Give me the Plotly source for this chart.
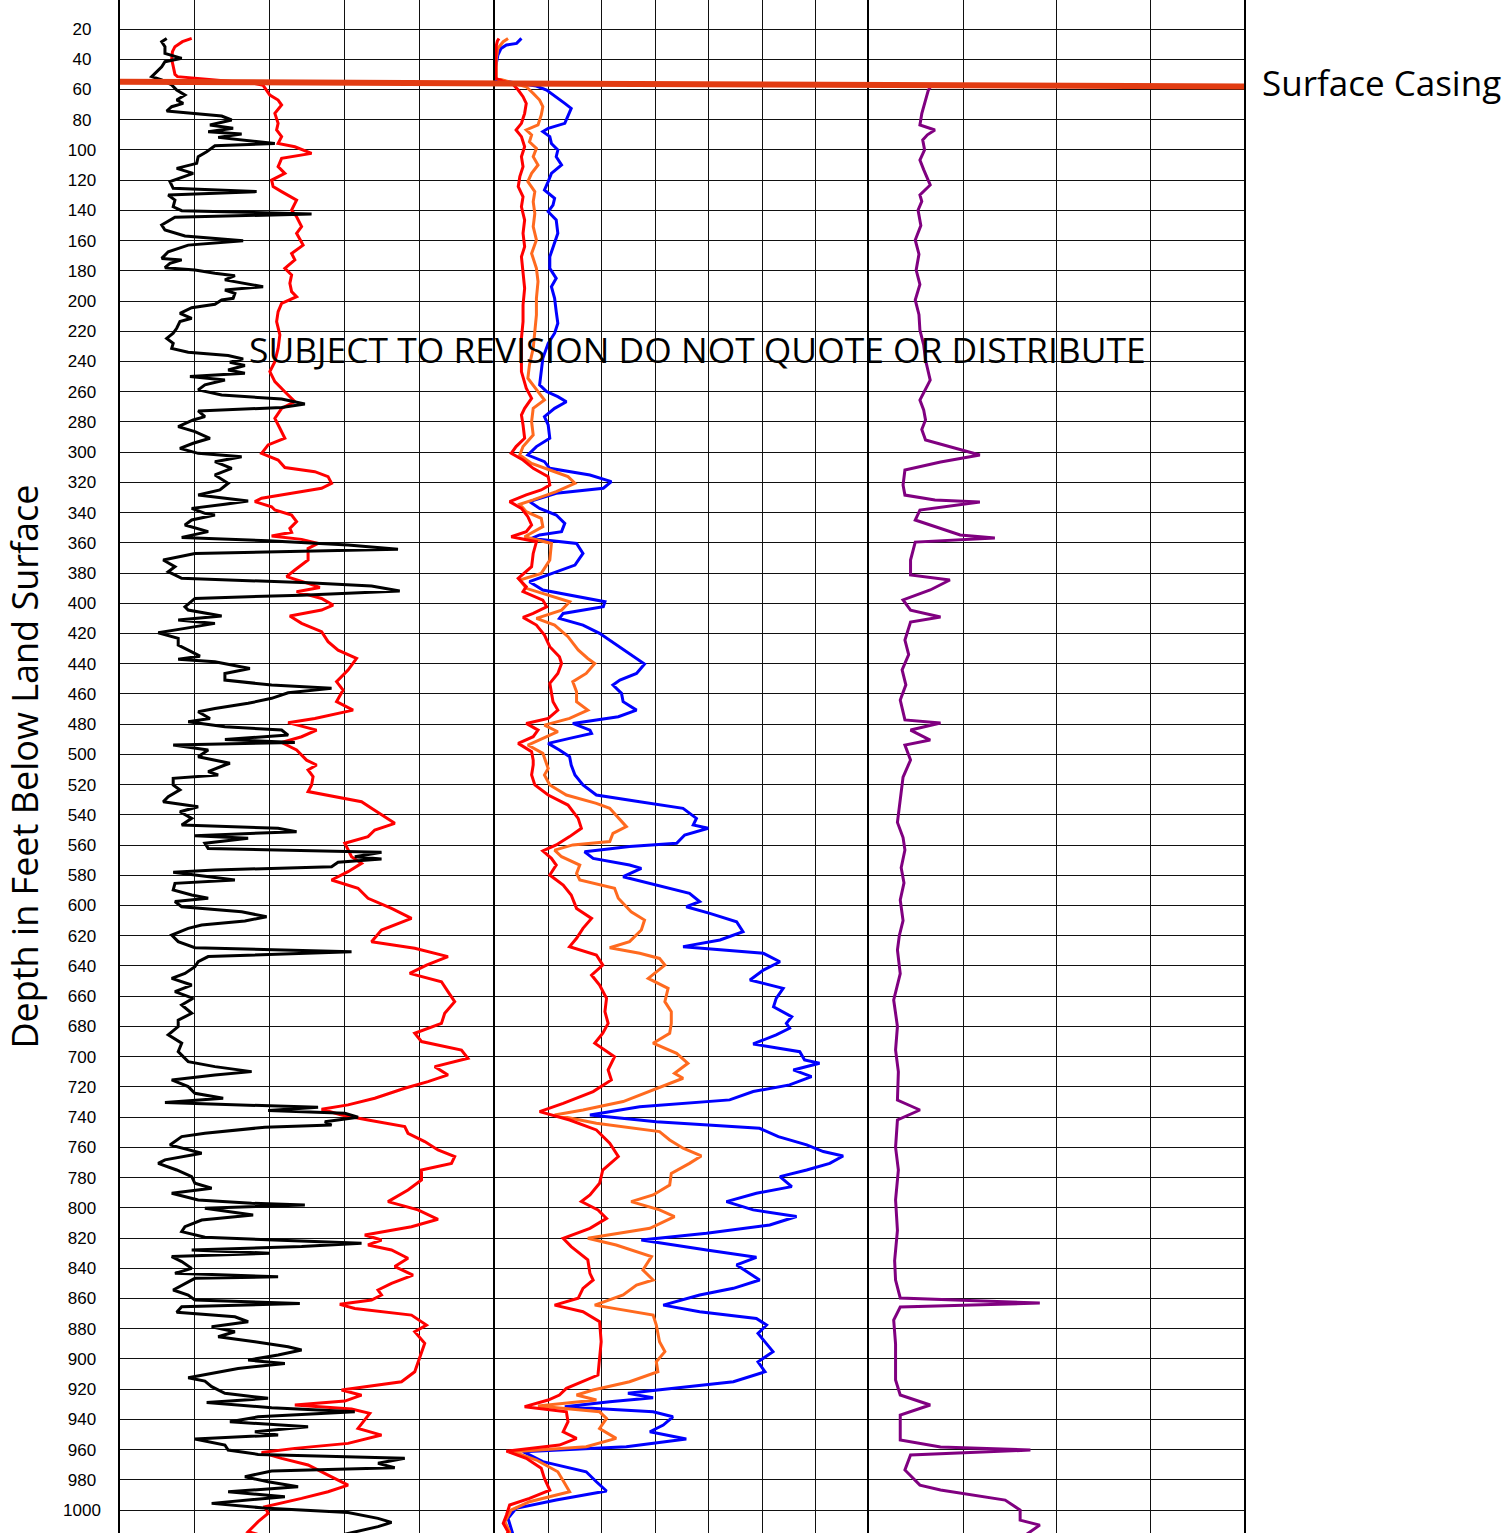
import plotly.graph_objects as go
from plotly.subplots import make_subplots

# ---------------- data (depth in ft, values in track units) ----------------
gr_depth = [26.2, 28.4, 31.7, 36.1, 39.4, 41.6, 45.0, 48.2, 51.5, 53.7, 57.0, 60.4, 63.7, 67.0, 69.2, 71.4, 74.3, 77.6, 80.2, 83.5,
            85.7, 88.0, 89.5, 91.7, 95.7, 97.2, 101.2, 104.5, 108.9, 112.2, 115.5, 121.0, 125.4, 127.6, 129.9, 133.2, 137.6, 140.2, 142.4, 144.6,
            149.7, 153.0, 157.0, 160.1, 163.0, 167.4, 171.8, 172.8, 175.0, 177.9, 179.4, 181.6, 183.2, 186.0, 190.5, 192.7, 194.9, 198.2, 199.3, 202.1,
            204.4, 208.1, 211.4, 213.6, 218.0, 221.3, 224.7, 228.0, 231.3, 233.9, 236.1, 238.3, 240.5, 242.7, 245.6, 247.8, 250.0, 252.2, 255.5, 258.8,
            262.2, 264.8, 268.1, 270.5, 272.7, 276.5, 278.7, 283.1, 286.4, 290.8, 294.1, 297.5, 300.8, 303.0, 306.3, 310.7, 315.1, 320.6, 325.0, 328.3,
            332.3, 334.5, 337.2, 340.5, 341.6, 344.9, 348.2, 352.6, 356.4, 358.6, 361.5, 364.3, 367.0, 371.4, 375.8, 379.1, 383.5, 386.4, 388.6, 391.9,
            394.6, 396.8, 402.3, 404.5, 408.4, 411.1, 413.3, 416.6, 419.5, 423.2, 427.6, 432.1, 435.0, 437.1, 438.7, 443.1, 446.4, 450.8, 454.1, 456.3,
            459.2, 462.9, 466.2, 469.6, 471.8, 476.2, 478.4, 481.7, 483.9, 487.2, 490.1, 492.1, 493.8, 497.1, 501.5, 505.9, 507.0, 511.4, 513.6, 515.8,
            520.2, 523.5, 528.0, 531.3, 534.6, 537.9, 542.3, 546.7, 548.9, 551.1, 553.8, 555.5, 558.8, 562.2, 564.8, 567.7, 569.2, 571.4, 574.3, 576.5,
            578.0, 583.1, 585.3, 589.7, 593.0, 595.2, 597.4, 600.8, 604.1, 607.4, 610.2, 612.9, 615.1, 619.5, 623.9, 627.9, 630.5, 633.8, 637.2, 640.5,
            644.9, 648.2, 652.6, 657.0, 661.4, 665.8, 671.3, 675.8, 680.1, 685.6, 691.1, 696.7, 703.3, 706.6, 709.9, 712.1, 715.4, 719.8, 724.2, 727.5,
            730.4, 733.5, 735.7, 737.5, 740.1, 743.0, 745.2, 746.7, 750.7, 752.9, 758.4, 763.9, 768.3, 770.6, 775.0, 779.4, 783.8, 787.1, 790.4, 794.8,
            797.0, 798.1, 800.3, 804.8, 808.1, 812.5, 815.8, 819.5, 821.3, 823.5, 825.7, 827.9, 830.1, 832.3, 835.6, 840.1, 843.4, 845.6, 846.7, 851.1,
            854.4, 857.7, 861.0, 863.3, 865.5, 869.2, 872.1, 875.4, 878.7, 882.0, 885.3, 888.6, 892.0, 894.1, 897.4, 900.8, 903.0, 906.3, 909.6, 912.5,
            914.7, 918.4, 922.8, 926.1, 928.8, 932.3, 935.0, 938.3, 941.6, 944.9, 948.2, 950.4, 953.0, 957.0, 960.3, 963.2, 965.8, 969.1, 972.0, 974.2,
            978.0, 981.3, 984.6, 987.9, 991.2, 995.6, 998.9, 1001.6, 1005.5, 1008.2, 1011.0, 1014.4, 1016.0]
gr_value = [18.7, 16.7, 18.0, 18.0, 24.7, 18.0, 16.7, 14.7, 12.7, 16.7, 20.7, 22.7, 26.0, 22.7, 25.3, 20.7, 18.7, 40.7, 44.7, 36.0,
            45.3, 35.3, 48.7, 39.3, 62.0, 38.0, 34.7, 31.3, 30.7, 22.7, 29.3, 20.0, 21.3, 54.7, 19.3, 22.0, 21.3, 24.7, 76.7, 22.0,
            16.7, 18.0, 26.0, 49.3, 27.3, 19.3, 16.7, 24.7, 20.0, 18.0, 30.0, 38.0, 46.0, 42.0, 57.3, 42.0, 46.0, 45.3, 40.7, 38.0,
            28.7, 24.0, 28.7, 24.0, 22.7, 21.3, 18.7, 21.3, 20.7, 27.3, 43.3, 49.3, 44.0, 50.0, 43.3, 50.0, 28.0, 42.0, 34.0, 31.3,
            40.7, 64.7, 74.0, 64.7, 31.3, 34.0, 29.3, 23.3, 30.0, 36.0, 29.3, 24.0, 31.3, 48.7, 38.0, 44.7, 38.0, 43.3, 40.0, 31.3,
            51.3, 42.0, 28.7, 34.0, 38.0, 28.7, 26.0, 35.3, 24.7, 59.3, 91.3, 111.3, 30.0, 17.3, 22.0, 19.3, 24.7, 75.3, 100.7, 112.0,
            72.7, 30.0, 26.0, 27.3, 40.7, 23.3, 38.0, 26.0, 15.3, 23.3, 23.3, 28.7, 32.0, 23.3, 38.0, 52.0, 42.0, 42.0, 60.7, 84.7,
            67.3, 60.7, 51.3, 38.0, 31.3, 36.0, 27.3, 42.0, 64.7, 67.3, 42.0, 70.0, 21.3, 35.3, 31.3, 44.0, 42.0, 35.3, 39.3, 21.3,
            21.3, 24.0, 19.3, 17.3, 31.3, 24.0, 28.7, 24.7, 63.3, 70.7, 30.0, 51.3, 34.0, 35.3, 104.7, 94.0, 104.7, 87.3, 84.7, 38.0,
            21.3, 46.0, 22.0, 21.3, 28.7, 35.3, 22.0, 24.7, 48.7, 58.7, 50.0, 32.7, 27.3, 20.7, 23.3, 30.0, 92.7, 35.3, 31.3, 30.0,
            26.0, 20.7, 28.7, 22.0, 29.3, 24.7, 28.7, 23.3, 23.3, 19.3, 24.7, 23.3, 27.3, 38.0, 52.7, 38.0, 20.7, 27.3, 30.0, 41.3,
            18.0, 79.3, 59.3, 90.0, 95.3, 82.0, 84.7, 58.0, 34.0, 24.7, 20.0, 32.7, 18.0, 15.3, 22.7, 28.7, 30.0, 36.7, 20.7, 31.3,
            52.7, 74.0, 34.0, 53.3, 32.7, 26.0, 24.7, 34.0, 64.7, 96.7, 72.7, 28.7, 60.0, 20.7, 24.7, 28.7, 22.0, 63.3, 30.0, 24.7,
            21.3, 27.3, 30.0, 72.0, 24.7, 22.7, 46.0, 51.3, 36.7, 46.0, 39.3, 54.0, 67.3, 72.7, 63.3, 51.3, 66.0, 47.3, 36.7, 27.3,
            34.0, 36.7, 42.0, 59.3, 34.7, 60.7, 94.0, 55.3, 44.0, 75.3, 54.0, 63.3, 30.0, 42.0, 43.3, 55.3, 114.0, 103.3, 110.0, 60.7,
            50.0, 59.3, 71.3, 43.3, 66.0, 36.7, 59.3, 91.3, 103.3, 108.7, 103.3, 94.0, 90.0]

res1_depth = [26.2, 28.4, 31.7, 35.0, 40.0, 45.0, 50.0, 51.5, 52.8, 54.5, 56.0, 57.3, 63.7, 67.0, 70.3, 75.8, 82.4, 86.8, 91.2, 95.7,
              97.9, 102.3, 105.6, 111.1, 115.5, 120.0, 124.3, 127.6, 133.2, 139.8, 144.2, 150.8, 155.2, 163.0, 168.5, 172.8, 178.3, 182.7, 188.3, 193.8,
              197.1, 201.5, 207.0, 213.6, 222.4, 231.3, 240.1, 246.7, 253.3, 260.0, 266.6, 271.0, 277.6, 284.2, 290.8, 295.2, 300.8, 305.2, 310.2, 312.9,
              316.2, 320.6, 323.9, 327.2, 330.5, 332.7, 336.1, 338.3, 341.6, 346.0, 350.4, 353.0, 355.5, 357.7, 360.4, 363.7, 371.4, 378.0, 382.4, 386.8,
              389.5, 392.3, 396.8, 401.2, 404.5, 408.4, 413.3, 418.8, 425.4, 431.0, 436.5, 444.2, 451.9, 457.4, 465.1, 470.7, 476.2, 479.0, 483.9, 488.3,
              492.1, 497.1, 503.8, 507.0, 510.3, 514.7, 520.2, 524.6, 528.0, 531.3, 535.7, 541.2, 545.6, 550.0, 554.4, 558.8, 563.3, 567.7, 572.1, 577.6,
              583.1, 588.6, 595.2, 601.9, 608.5, 616.2, 623.9, 628.3, 633.8, 639.4, 644.9, 650.4, 657.0, 663.6, 671.3, 678.0, 684.5, 690.0, 695.6, 701.1,
              706.6, 712.1, 716.5, 720.9, 727.5, 731.9, 734.8, 738.6, 741.9, 746.3, 750.7, 756.2, 761.7, 766.1, 770.6, 775.0, 781.6, 788.2, 795.9, 801.4,
              807.6, 812.5, 818.0, 821.3, 824.6, 827.9, 833.4, 838.9, 844.5, 850.0, 854.4, 857.7, 861.0, 863.9, 866.6, 871.0, 877.6, 882.0, 889.7, 899.7,
              908.5, 915.1, 920.6, 924.0, 927.9, 930.5, 933.2, 936.0, 940.5, 946.0, 950.4, 955.9, 959.2, 961.9, 965.8, 970.2, 976.9, 983.5, 987.9, 992.3,
              997.8, 1002.2, 1007.7, 1014.4, 1016.0]
res1_value = [28.7, 25.0, 22.0, 21.0, 20.7, 21.3, 22.0, 23.0, 32.0, 45.0, 54.0, 57.3, 60.0, 63.3, 64.7, 62.0, 63.3, 62.7, 64.7, 63.3,
              70.0, 76.7, 64.7, 63.3, 66.0, 60.7, 61.3, 64.7, 70.7, 68.7, 70.7, 72.7, 70.7, 73.3, 68.7, 70.0, 66.0, 68.7, 68.0, 68.7,
              70.7, 64.7, 63.3, 62.7, 64.0, 63.3, 62.0, 60.0, 62.0, 66.0, 70.0, 64.7, 62.0, 64.0, 66.0, 59.3, 56.7, 63.3, 66.0, 78.0,
              83.3, 84.7, 80.7, 68.7, 56.7, 54.0, 60.7, 62.0, 68.7, 70.7, 68.0, 68.7, 60.7, 72.7, 79.3, 75.3, 75.3, 70.0, 66.7, 75.3,
              80.0, 70.7, 80.7, 85.3, 80.7, 68.0, 72.7, 80.7, 83.3, 87.3, 94.7, 91.3, 86.7, 89.3, 86.7, 93.3, 78.0, 67.3, 78.7, 72.7,
              64.7, 70.7, 74.7, 78.7, 75.3, 77.3, 76.7, 75.3, 86.0, 96.7, 100.7, 106.0, 110.0, 102.0, 99.3, 90.0, 91.3, 92.7, 96.7, 91.3,
              84.7, 95.3, 99.3, 108.7, 116.7, 104.7, 100.7, 118.0, 131.3, 122.7, 116.0, 128.7, 131.3, 134.0, 130.0, 128.7, 118.0, 120.7, 136.7, 139.3,
              126.0, 131.3, 123.3, 114.0, 102.0, 91.3, 80.7, 88.7, 99.3, 114.0, 115.3, 122.0, 127.3, 134.0, 132.7, 120.7, 120.7, 115.3, 107.3, 119.3,
              127.3, 116.7, 98.0, 104.7, 99.3, 108.7, 115.3, 110.0, 117.3, 108.7, 103.3, 104.7, 100.7, 88.0, 94.0, 116.7, 122.7, 118.0, 122.0, 120.0,
              118.0, 112.7, 88.7, 96.7, 90.0, 70.0, 92.7, 100.0, 98.0, 95.3, 104.7, 91.3, 70.0, 56.7, 64.7, 75.3, 83.3, 91.3, 83.3, 72.7,
              58.0, 59.3, 55.3, 51.3, 55.0]

sh_depth = [26.2, 28.0, 31.0, 40.0, 52.6, 54.5, 56.5, 60.4, 64.8, 69.2, 75.8, 82.4, 86.8, 91.2, 97.9, 104.5, 111.1, 117.7, 124.3, 131.0,
            137.6, 146.4, 155.2, 164.0, 170.7, 182.7, 191.6, 202.6, 213.6, 224.7, 235.7, 246.7, 257.7, 264.4, 271.0, 275.4, 282.0, 290.8, 296.3, 300.8,
            305.2, 310.7, 316.2, 321.7, 325.0, 328.3, 332.7, 337.2, 342.7, 348.2, 352.6, 356.0, 359.3, 367.0, 375.8, 383.5, 389.0, 392.3, 397.9, 402.3,
            406.7, 409.3, 414.4, 421.0, 428.7, 435.4, 439.8, 446.4, 453.0, 459.6, 465.1, 470.7, 476.2, 479.5, 483.9, 488.3, 492.7, 498.2, 503.8, 507.0,
            513.6, 520.2, 526.9, 533.5, 542.3, 548.9, 554.4, 559.9, 563.9, 568.8, 573.2, 579.8, 586.4, 593.0, 601.9, 608.5, 615.1, 621.7, 627.2, 632.7,
            639.4, 646.0, 652.6, 661.4, 670.2, 678.0, 684.5, 691.1, 700.0, 708.8, 715.4, 723.1, 730.9, 736.4, 741.9, 748.5, 757.3, 766.1, 775.0, 783.8,
            791.5, 795.9, 801.4, 807.0, 813.6, 820.2, 825.7, 834.5, 843.4, 847.8, 853.3, 859.9, 864.4, 868.8, 875.4, 888.6, 899.7, 910.7, 919.5, 923.9,
            927.2, 931.6, 935.0, 941.6, 948.2, 952.6, 957.0, 961.0, 965.8, 972.4, 979.1, 986.8, 992.3, 996.7, 1003.3, 1008.8, 1014.4, 1016.0]
sh_value = [0.8, 0.5, 0.3, 0.2, 0.2, 1.5, 3.4, 4.4, 5.3, 5.9, 5.6, 5.0, 4.0, 5.0, 5.6, 5.0, 5.3, 4.7, 4.4, 5.3,
            5.0, 5.6, 5.3, 5.6, 5.0, 5.3, 5.6, 5.3, 5.3, 5.0, 5.0, 5.0, 5.9, 6.9, 5.6, 5.0, 5.3, 5.6, 4.0, 3.1,
            5.3, 7.2, 10.0, 10.3, 8.7, 5.9, 2.8, 5.0, 6.2, 6.9, 5.9, 3.1, 7.8, 7.2, 6.9, 4.4, 5.9, 5.3, 9.0, 9.7,
            7.2, 5.3, 7.8, 9.3, 10.3, 12.1, 12.5, 11.8, 10.3, 10.6, 10.9, 11.8, 10.0, 5.9, 8.1, 7.2, 4.4, 6.9, 7.2, 7.2,
            6.9, 7.5, 10.0, 13.7, 15.6, 16.2, 14.0, 11.5, 9.0, 10.6, 11.5, 10.3, 12.8, 14.3, 15.3, 18.1, 16.5, 15.3, 14.0, 19.0,
            20.2, 18.1, 19.6, 20.9, 20.6, 21.2, 20.2, 18.7, 22.4, 21.2, 21.8, 18.4, 12.8, 8.4, 14.0, 19.0, 21.5, 23.1, 20.2, 19.6,
            17.8, 16.2, 19.3, 20.9, 17.8, 12.8, 14.3, 17.4, 17.8, 18.4, 16.5, 15.6, 11.2, 16.5, 19.6, 19.9, 19.6, 19.3, 13.4, 12.1,
            10.0, 5.6, 13.4, 13.7, 12.8, 15.3, 12.1, 2.2, 5.9, 8.7, 9.3, 10.3, 6.5, 2.8, 2.2, 1.6, 2.5, 2.3]

md_depth = [26.2, 28.4, 32.7, 40.0, 52.6, 54.8, 58.2, 62.6, 67.0, 71.4, 76.9, 83.5, 86.8, 90.1, 94.6, 99.0, 104.5, 110.0, 115.5, 121.0,
            127.6, 134.3, 142.0, 150.8, 159.6, 168.5, 178.3, 187.1, 198.2, 209.2, 220.2, 231.3, 242.3, 251.1, 259.9, 265.5, 271.0, 279.8, 288.6, 296.3,
            301.9, 307.4, 311.8, 316.2, 320.6, 326.1, 331.6, 334.5, 339.4, 343.8, 349.3, 356.0, 360.4, 371.4, 380.2, 384.6, 390.1, 394.6, 399.0, 404.5,
            410.0, 414.4, 422.1, 430.9, 436.5, 439.8, 446.4, 451.9, 458.5, 465.1, 470.7, 476.2, 480.6, 485.0, 490.5, 493.8, 499.3, 505.9, 509.3, 513.6,
            520.2, 526.9, 532.4, 535.7, 542.3, 547.8, 552.2, 557.7, 559.9, 563.3, 567.7, 573.2, 578.7, 583.1, 588.6, 595.2, 604.1, 609.6, 616.2, 623.9,
            627.9, 631.6, 635.0, 639.4, 648.2, 654.8, 663.6, 670.2, 678.0, 684.5, 691.1, 697.8, 704.4, 711.0, 714.3, 722.0, 729.7, 735.3, 738.6, 744.1,
            749.6, 755.1, 760.6, 765.7, 770.6, 777.2, 784.9, 791.5, 795.9, 801.4, 805.8, 813.6, 820.2, 824.6, 832.3, 841.2, 847.8, 851.1, 857.7, 864.4,
            871.0, 877.6, 888.6, 895.2, 901.9, 908.5, 915.1, 920.6, 923.9, 927.2, 931.2, 935.0, 939.4, 946.0, 952.6, 958.1, 961.4, 966.9, 974.7, 982.4,
            987.9, 994.5, 1000.0, 1007.7, 1014.4, 1016.0]
md_value = [2.5, 1.6, 0.6, 0.3, 0.3, 2.5, 5.9, 7.2, 8.4, 9.0, 8.7, 8.1, 5.9, 6.9, 6.5, 7.8, 7.2, 8.1, 6.9, 6.2,
            7.5, 7.2, 7.5, 7.2, 7.8, 6.9, 7.8, 8.1, 7.8, 7.8, 7.5, 7.2, 6.5, 6.2, 8.1, 9.3, 7.2, 6.9, 7.2, 5.3,
            4.7, 6.9, 10.3, 13.7, 15.0, 11.5, 7.2, 4.7, 5.9, 8.7, 9.0, 5.6, 10.6, 10.3, 8.7, 4.7, 5.9, 10.0, 14.0, 12.5,
            7.8, 11.2, 13.7, 15.6, 17.4, 18.7, 17.1, 14.6, 15.3, 15.3, 17.4, 14.0, 9.3, 11.8, 8.1, 6.2, 9.0, 9.7, 10.0, 9.3,
            10.3, 13.4, 19.0, 21.5, 23.1, 24.6, 22.1, 21.5, 14.6, 11.2, 12.5, 15.9, 15.3, 15.9, 22.4, 23.1, 25.5, 28.0, 27.4, 25.2,
            21.5, 27.1, 30.8, 31.8, 28.7, 32.4, 31.8, 33.0, 33.0, 32.7, 29.6, 34.0, 36.1, 33.6, 35.2, 29.6, 24.0, 16.5, 11.2, 19.0,
            30.8, 32.7, 35.2, 38.6, 36.4, 33.0, 32.7, 29.6, 25.5, 30.8, 33.6, 29.0, 17.4, 22.7, 29.3, 27.7, 29.6, 26.5, 24.0, 18.7,
            29.6, 30.2, 30.8, 31.8, 30.2, 30.5, 25.2, 18.4, 15.3, 19.0, 8.1, 19.6, 20.9, 19.6, 22.7, 17.1, 3.4, 7.8, 11.8, 13.1,
            14.0, 6.5, 3.1, 1.9, 2.8, 2.5]

dp_depth = [26.2, 29.5, 30.6, 32.8, 37.2, 45.0, 53.7, 55.5, 57.7, 60.4, 64.8, 69.2, 72.5, 76.9, 82.4, 85.7, 87.9, 91.2, 95.7, 100.1,
            104.5, 110.0, 115.5, 121.0, 126.5, 132.0, 136.5, 140.9, 146.4, 155.2, 161.8, 170.7, 178.3, 185.0, 190.5, 198.2, 207.0, 214.7, 221.3, 228.0,
            237.9, 246.7, 255.5, 259.9, 263.3, 266.6, 271.0, 276.5, 282.0, 290.8, 296.3, 301.9, 306.3, 310.7, 315.1, 319.5, 323.9, 327.2, 332.7, 337.2,
            341.6, 347.1, 352.6, 354.8, 357.1, 360.4, 367.0, 374.7, 381.3, 385.7, 391.2, 395.7, 399.0, 402.3, 406.7, 410.0, 414.4, 419.9, 426.5, 432.1,
            436.5, 440.2, 446.4, 450.8, 454.1, 459.6, 465.1, 470.7, 475.1, 479.5, 483.9, 486.1, 489.4, 492.7, 497.1, 501.5, 507.0, 513.6, 520.2, 526.9,
            531.3, 535.7, 542.3, 546.7, 548.9, 553.3, 558.8, 561.0, 564.4, 568.8, 573.2, 575.4, 580.9, 586.4, 591.9, 597.4, 600.8, 605.2, 610.7, 617.3,
            622.8, 627.2, 631.6, 637.2, 642.7, 649.3, 654.8, 661.4, 667.0, 673.6, 678.0, 681.2, 685.6, 691.6, 696.7, 702.2, 704.4, 708.8, 713.2, 718.7,
            723.1, 728.6, 733.1, 738.6, 743.0, 747.4, 752.9, 758.4, 762.8, 765.7, 770.6, 775.0, 779.4, 786.0, 790.4, 795.9, 801.4, 805.8, 811.4, 816.9,
            821.3, 827.9, 832.8, 837.8, 843.4, 847.8, 853.3, 857.7, 864.4, 868.8, 873.2, 877.6, 883.1, 888.6, 895.2, 901.9, 908.5, 915.1, 919.5, 922.8,
            925.7, 928.3, 931.6, 935.0, 938.3, 943.8, 948.2, 953.0, 958.1, 961.4, 968.0, 974.7, 981.3, 987.4, 993.4, 998.9, 1005.5, 1012.2, 1016.0]
dp_value = [5.0, 4.1, 2.2, 1.2, 0.6, 0.2, 0.2, 3.5, 7.8, 9.7, 11.5, 13.1, 14.3, 13.7, 13.1, 10.0, 9.0, 10.3, 10.6, 11.8,
            11.5, 12.5, 10.6, 10.0, 9.3, 11.2, 10.9, 10.0, 11.5, 11.8, 11.2, 10.3, 10.3, 11.5, 10.6, 11.2, 11.5, 11.8, 11.2, 10.0,
            9.0, 8.7, 8.4, 9.7, 11.8, 13.4, 11.2, 9.3, 10.0, 10.3, 7.8, 6.2, 9.3, 10.3, 17.8, 21.8, 20.3, 11.5, 6.5, 8.4,
            11.5, 13.1, 12.5, 8.4, 6.9, 15.3, 16.5, 15.0, 10.0, 6.5, 9.0, 15.3, 20.6, 20.3, 12.8, 12.1, 16.5, 19.6, 22.4, 24.6,
            26.5, 28.0, 26.5, 23.4, 22.1, 23.7, 24.0, 26.5, 23.1, 14.6, 17.8, 18.1, 14.0, 10.0, 12.1, 14.0, 14.3, 15.0, 16.5, 19.0,
            27.1, 35.2, 37.7, 37.1, 39.9, 35.5, 34.0, 25.2, 16.8, 18.4, 25.2, 27.4, 24.0, 30.2, 36.4, 38.3, 35.8, 40.2, 45.2, 46.4,
            42.1, 35.2, 50.2, 53.3, 50.2, 47.7, 53.9, 52.6, 52.1, 55.5, 54.5, 55.1, 52.6, 48.3, 57.0, 57.9, 60.7, 55.8, 59.2, 55.1,
            48.3, 43.9, 27.1, 17.8, 30.2, 49.5, 53.0, 58.3, 61.4, 65.1, 62.6, 58.3, 53.3, 55.5, 48.9, 43.3, 48.3, 56.4, 51.4, 39.6,
            27.4, 39.6, 48.9, 45.2, 47.7, 49.5, 44.6, 38.3, 31.5, 38.3, 48.9, 50.8, 49.2, 50.5, 52.0, 49.2, 50.5, 44.6, 34.0, 24.9,
            29.6, 21.5, 13.1, 29.6, 33.3, 31.5, 29.0, 35.8, 24.6, 5.3, 9.0, 17.1, 19.0, 20.9, 11.5, 4.0, 2.5, 3.1, 3.4]

cal_depth = [57.7, 60.4, 67.0, 76.0, 83.5, 86.8, 90.0, 93.4, 100.0, 106.7, 113.0, 123.2, 129.8, 134.0, 139.8, 150.0, 159.6, 169.0, 179.5, 189.0,
             199.3, 209.0, 219.2, 229.0, 239.0, 252.3, 265.5, 272.0, 278.7, 285.0, 292.0, 297.3, 301.9, 306.5, 311.8, 321.7, 328.4, 331.7, 333.0, 338.3,
             344.9, 354.8, 356.8, 359.5, 371.4, 381.3, 384.6, 391.2, 397.8, 404.5, 409.1, 412.4, 424.3, 434.0, 444.0, 454.0, 464.0, 477.2, 479.2, 483.9,
             490.5, 493.8, 503.7, 515.0, 530.2, 545.0, 555.0, 563.3, 575.0, 585.0, 596.3, 610.0, 620.0, 629.4, 645.0, 662.5, 680.0, 695.6, 710.0, 728.7,
             735.3, 741.9, 760.0, 775.0, 794.8, 815.0, 835.0, 847.8, 859.7, 863.0, 865.7, 874.3, 890.0, 914.0, 923.9, 930.5, 937.1, 953.7, 958.3, 960.3,
             963.6, 973.5, 983.5, 986.8, 993.4, 1000.0, 1006.7, 1010.0, 1016.0]
cal_value = [6.6, 6.3, 6.0, 5.6, 5.4, 7.0, 6.2, 5.7, 5.9, 5.4, 5.8, 6.5, 5.4, 5.6, 5.2, 5.5, 4.9, 5.3, 5.0, 5.4,
             4.9, 5.3, 5.4, 5.8, 6.0, 6.5, 5.4, 5.8, 6.0, 5.6, 6.0, 9.2, 11.8, 7.6, 3.8, 3.6, 3.8, 7.0, 11.8, 5.4,
             4.9, 9.7, 13.4, 4.9, 4.4, 4.4, 8.6, 6.5, 3.6, 4.4, 7.6, 4.4, 3.8, 4.2, 3.5, 3.9, 3.3, 3.8, 7.6, 4.4,
             6.5, 3.8, 4.4, 3.6, 3.3, 3.0, 3.6, 3.8, 3.4, 3.7, 3.3, 3.6, 3.2, 3.0, 3.3, 2.6, 3.0, 2.8, 3.1, 3.0,
             5.4, 3.0, 2.8, 3.1, 2.8, 3.0, 2.7, 2.8, 3.3, 18.2, 3.3, 2.6, 2.8, 2.8, 3.3, 6.5, 3.3, 3.3, 7.6, 17.2,
             4.4, 3.8, 5.4, 7.6, 14.5, 16.1, 16.1, 18.2, 16.8]

casing_depth = [54.9, 58.0]          # left end / right end of the casing mark
depth_ticks = list(range(20, 1001, 20))
depth_range = [1015.2, 0.8]
track_ranges = [[0, 150], [0, 70], [0, 40]]
track_dticks = [30, 10, 10]

# ---------------- figure ----------------
fig = make_subplots(rows=1, cols=3, shared_yaxes=True, horizontal_spacing=0)

def add(x, y, col, color, width):
    fig.add_trace(go.Scatter(x=x, y=y, mode="lines", line=dict(color=color, width=width),
                             showlegend=False, hoverinfo="skip"), row=1, col=col)

add(res1_value, res1_depth, 1, "#ff0000", 3)
add(gr_value, gr_depth, 1, "#000000", 3)
add(dp_value, dp_depth, 2, "#0000ff", 3)
add(md_value, md_depth, 2, "#ff6a1f", 3)
add(sh_value, sh_depth, 2, "#ff0000", 3)
add(cal_value, cal_depth, 3, "#800080", 3)

# tick labels centred (pad shorter labels with figure / punctuation spaces)
pad = {2: "\u2007", 3: "\u2008", 4: ""}
tick_text = [str(t) + pad[len(str(t))] for t in depth_ticks]

for i in range(3):
    xa = "xaxis" if i == 0 else f"xaxis{i+1}"
    fig.layout[xa].update(range=track_ranges[i], dtick=track_dticks[i], tick0=0,
                          showticklabels=False, ticks="", showgrid=True,
                          gridcolor="#111111", gridwidth=1, zeroline=False, showline=False)
    ya = "yaxis" if i == 0 else f"yaxis{i+1}"
    fig.layout[ya].update(range=depth_range, showgrid=True, gridcolor="#111111", gridwidth=1,
                          tickmode="array", tickvals=depth_ticks, zeroline=False,
                          showline=True, mirror=(i == 2), linecolor="#000000", linewidth=1.5, ticks="")

fig.layout.yaxis.update(ticktext=tick_text, showticklabels=True,
                        tickfont=dict(family="Liberation Sans, Arial", size=17, color="#000"),
                        ticklabelstandoff=14,
                        title=dict(text="Depth in Feet Below Land Surface", standoff=14,
                                   font=dict(family="Open Sans", size=36, color="#000")))

fig.add_shape(type="line", xref="paper", yref="y", x0=0, x1=1,
              y0=casing_depth[0], y1=casing_depth[1],
              line=dict(color="#e23c12", width=6), layer="above")

fig.add_annotation(text="Surface Casing", xref="paper", yref="y", x=1.0145, y=casing_depth[1] - 2.5,
                   xanchor="left", yanchor="middle", showarrow=False,
                   font=dict(family="Open Sans", size=35, color="#000"))
fig.add_annotation(text="SUBJECT TO REVISION DO NOT QUOTE OR DISTRIBUTE", xref="paper", yref="y",
                   x=0.5135, y=232, xanchor="center", yanchor="middle", showarrow=False,
                   font=dict(family="Open Sans", size=35.4, color="#000"))

fig.update_layout(width=1507, height=1533, margin=dict(l=120, r=263, t=0, b=0),
                  plot_bgcolor="#ffffff", paper_bgcolor="#ffffff", showlegend=False)

fig.write_html("out.html", config={"displayModeBar": False},
               post_script="document.body.style.margin='0px';")
